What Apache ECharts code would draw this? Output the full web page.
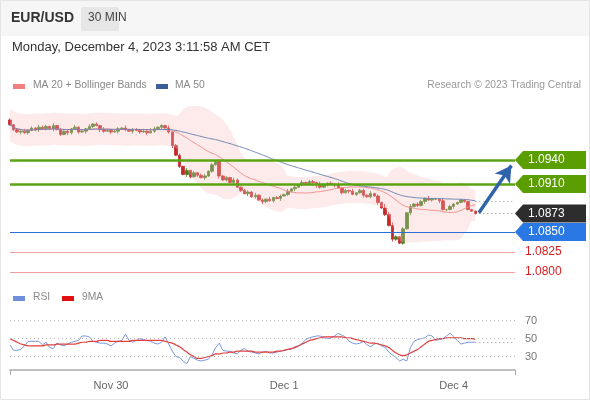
<!DOCTYPE html>
<html><head><meta charset="utf-8">
<script src="https://cdn.jsdelivr.net/npm/echarts@6/dist/echarts.min.js"></script>
<style>html,body{margin:0;padding:0;background:#fff}#c{width:590px;height:400px}</style>
</head><body><div id="c"></div>
<script>
// closes of 30-min EUR/USD bars
const closes = [1.0984,1.0978,1.0975,1.0976,1.0974,1.0977,1.0980,1.0978,1.0981,1.0979,1.0982,
1.0979,1.0983,1.0978,1.0972,1.0976,1.0974,1.0979,1.0981,1.0975,1.0976,
1.0979,1.0982,1.0985,1.0983,1.0978,1.0976,1.0977,1.0975,1.0976,1.0979,
1.0980,1.0978,1.0976,1.0978,1.0977,1.0975,1.0976,1.0974,1.0976,1.0979,
1.0981,1.0983,1.0980,1.0975,1.0958,
1.0946,1.0932,1.0922,1.0927,1.0919,1.0924,1.0921,1.0918,1.0920,1.0926,
1.0934,1.0938,1.0920,1.0915,1.0918,
1.0912,1.0915,1.0906,1.0902,1.0898,1.0900,1.0894,1.0896,1.0890,1.0888,
1.0891,1.0889,1.0893,1.0892,1.0895,1.0897,1.0901,1.0904,1.0906,1.0909,
1.0912,1.0911,1.0913,1.0912,1.0910,1.0906,1.0909,1.0911,1.0910,1.0909,
1.0905,1.0899,1.0902,1.0901,1.0897,1.0899,1.0902,1.0896,1.0894,1.0898,
1.0895,1.0887,1.0880,1.0872,1.0858,1.0841,1.0844,1.0836,1.0854,1.0874,
1.0882,1.0885,1.0883,1.0888,1.0892,1.0890,1.0891,1.0891,1.0889,1.0878,
1.0878,1.0882,1.0885,1.0887,1.0890,1.0888,1.0878,1.0876,1.0873];
const firstOpen = 1.0990;
// wick sizes in pips
const upperWicks = "2121312132213121213121312132122131221314312131221312123121312132122131213122131213122132121312131221312153421213122131213121";
const lowerWicks = "1213121231213121321213121321213121312131213123121321213121312131213121321213121312134521213121312131213121321213121312131213";
const rsiValues = [43,37,37,38,42,47,47,47,47,43, 46,40,39,45,43,42,44,46,47,48,
 53,53,52,47,46,45,45,44,42,45, 47,48,55,48,46,48,50,49,48,47,
 45,44,46,52,44,36,30,29,25,22, 30,28,26,25,26,27,32,40,45,37,
 36,36,34,33,37,39,36,35,34,33, 35,36,34,34,35,36,37,38,38,41,
 42,45,49,51,52,53,53,51,50,51, 53,56,54,52,47,45,44,45,47,43,
 41,44,45,42,40,35,32,29,25,27, 25,40,47,49,50,51,54,53,48,49,
 50,53,56,52,48,44,45,46,46,46];
const rsiMaValues = [50,48,46,44,43,42,42,42,42,42, 43,43,43,44,44,44,44,44,44,45,
 46,46,47,47,47,48,48,48,47,47, 47,47,47,47,48,48,48,48,48,48,
 48,48,48,47,46,45,43,41,38,35, 32,30,28,28,29,30,31,33,33,34,
 34,35,35,36,36,36,36,36,35,35, 35,35,35,35,36,36,37,38,39,40,
 42,44,46,48,49,50,51,52,52,52, 52,52,52,51,51,50,49,48,47,46,
 45,45,44,43,42,40,37,34,32,31, 32,34,36,38,41,44,47,48,49,50,
 50,51,51,51,51,51,50,50,50,49];
const dateLabels = {28:'Nov 30', 76:'Dec 1', 123:'Dec 4'};
const levels = {res2:1.0940, res1:1.0910, last:1.0873, sup1:1.0850, sup2:1.0825, sup3:1.0800};
const rsiTicks = [30,50,70];
const N = 141;

const cats = Array.from({length:N},(_,i)=>String(i));
const ohlc = closes.map((c,i)=>{
  const o = i? closes[i-1] : firstOpen;
  const u = (+upperWicks[i]||1)*0.0001, l=(+lowerWicks[i]||1)*0.0001;
  return [o,c,Math.min(o,c)-l,Math.max(o,c)+u];
});
function sma(arr,p){return arr.map((_,i)=>{const s=arr.slice(Math.max(0,i-p+1),i+1);return s.reduce((a,b)=>a+b,0)/s.length;});}
const ma20=sma(closes,20), ma50=sma(closes,50);
const bbLo=[],bbW=[];
closes.forEach((_,i)=>{const s=closes.slice(Math.max(0,i-19),i+1);const m=ma20[i];
  let sd=Math.sqrt(s.reduce((a,b)=>a+(b-m)*(b-m),0)/s.length); sd=Math.max(sd,0.001);
  bbLo.push(m-2*sd); bbW.push(4*sd);});
const lastI=closes.length-1;

const chart=echarts.init(document.getElementById('c'));
const hline=(y,color,w,t,from)=>[{coord:[String(from||0),y],lineStyle:{color,width:w,type:t||'solid'}},{coord:[String(N-1),y]}];
chart.setOption({
  animation:false,
  grid:[{left:10,right:75,top:100,height:180},{left:10,right:75,top:310,height:60}],
  xAxis:[
    {type:'category',data:cats,boundaryGap:false,gridIndex:0,show:false},
    {type:'category',data:cats,boundaryGap:false,gridIndex:1,
     axisLine:{lineStyle:{color:'#aaa',width:1.5}},axisTick:{show:true,interval:(i)=>i===0||i===N-1,length:5,lineStyle:{color:'#aaa'}},
     axisLabel:{interval:(i)=>dateLabels[i]!==undefined,formatter:(v)=>dateLabels[v]||'',color:'#666',fontSize:11,margin:10,fontFamily:'Liberation Sans'}}
  ],
  yAxis:[
    {type:'value',min:1.0790,max:1.1015,gridIndex:0,show:false,splitLine:{show:false}},
    {type:'value',min:15,max:82,gridIndex:1,position:'right',axisLine:{show:false},axisTick:{show:false},
     splitLine:{show:false},axisLabel:{show:false}}
  ],
  series:[
    {type:'line',data:bbLo,stack:'bb',symbol:'none',lineStyle:{width:0},areaStyle:{opacity:0},smooth:true},
    {type:'line',data:bbW,stack:'bb',symbol:'none',lineStyle:{width:0},areaStyle:{color:'rgba(250,190,190,0.45)'},smooth:true},
    {type:'line',data:ma20,symbol:'none',lineStyle:{color:'#f08a8a',width:1},smooth:true},
    {type:'line',data:ma50,symbol:'none',lineStyle:{color:'#6a7fb0',width:1},smooth:true,
     markLine:{silent:true,symbol:'none',label:{show:false},precision:6,data:[
       hline(levels.res2,'#5aa312',2.5),hline(levels.res1,'#5aa312',2.5),hline(levels.sup1,'#2a6fd6',1.2),
       hline(levels.sup2,'#f0a0a0',1.2),hline(levels.sup3,'#f0a0a0',1.2),
       hline(levels.last,'#777',1,[1,3],lastI),
       hline(ma50[lastI],'#999',1,[1,3],lastI),
       [{coord:[String(lastI+1),1.0874],lineStyle:{color:'#2f63aa',width:3.5,type:'solid'},symbol:'none'},
        {coord:[String(N-2),1.0933],symbol:'arrow',symbolSize:[14,16]}]
     ]}},
    {type:'candlestick',data:ohlc,barWidth:3,itemStyle:{color:'#3f7f1c',color0:'#c62828',borderColor:'#3f7f1c',borderColor0:'#c62828',borderWidth:0.8}},
    {type:'line',data:rsiValues,xAxisIndex:1,yAxisIndex:1,symbol:'none',lineStyle:{color:'#7a95dc',width:1},
     markLine:{silent:true,symbol:'none',label:{show:false},data:[
       ...rsiTicks.map(v=>hline(v,'#bbb',1,[1,3])),
       hline(rsiValues[lastI],'#99a',1,[1,3],lastI)
     ]}},
    {type:'line',data:rsiMaValues,xAxisIndex:1,yAxisIndex:1,symbol:'none',smooth:true,lineStyle:{color:'#e0403f',width:1.2}}
  ]
});
const F='Liberation Sans';
const g=[
  {type:'rect',shape:{x:0,y:0,width:590,height:36},style:{fill:'#f6f6f6'},z:-1},
  {type:'rect',shape:{x:0.5,y:0.5,width:589,height:399},style:{fill:'none',stroke:'#e4e4e4'}},
  {type:'text',x:11,y:11,style:{text:'EUR/USD',font:'bold 14px '+F,fill:'#333'}},
  {type:'rect',shape:{x:81,y:7,width:38,height:24,r:2},style:{fill:'#e6e6e6'}},
  {type:'text',x:88,y:12,style:{text:'30 MIN',font:'12px '+F,fill:'#444'}},
  {type:'text',x:12,y:41,style:{text:'Monday, December 4, 2023 3:11:58 AM CET',font:'13px '+F,fill:'#333'}},
  {type:'rect',shape:{x:13,y:84,width:12,height:5},style:{fill:'#f08080'}},
  {type:'text',x:33,y:80,style:{text:'MA 20 + Bollinger Bands',font:'10.3px '+F,fill:'#888'}},
  {type:'rect',shape:{x:156,y:84,width:12,height:5},style:{fill:'#3a5f9a'}},
  {type:'text',x:175,y:80,style:{text:'MA 50',font:'10.3px '+F,fill:'#888'}},
  {type:'text',x:581,y:80,style:{text:'Research \u00a9 2023 Trading Central',font:'10.3px '+F,fill:'#999',align:'right'}},
  {type:'rect',shape:{x:13,y:296,width:12,height:5},style:{fill:'#6f8fdc'}},
  {type:'text',x:33,y:292,style:{text:'RSI',font:'10.3px '+F,fill:'#888'}},
  {type:'rect',shape:{x:62,y:296,width:12,height:5},style:{fill:'#e01010'}},
  {type:'text',x:82,y:292,style:{text:'9MA',font:'10.3px '+F,fill:'#888'}}
];
function tag(v,bg){const y=chart.convertToPixel({yAxisIndex:0},v);
  g.push({type:'polygon',shape:{points:[[515,y],[523,y-9],[586,y-9],[586,y+9],[523,y+9]]},style:{fill:bg}});
  g.push({type:'text',x:528,y:y,style:{text:v.toFixed(4),font:'12px '+F,fill:'#fff',verticalAlign:'middle'}});}
tag(levels.res2,'#5a9e00');tag(levels.res1,'#5a9e00');tag(levels.last,'#2d2d2d');tag(levels.sup1,'#2a78e4');
[levels.sup2,levels.sup3].forEach(v=>{const y=chart.convertToPixel({yAxisIndex:0},v);
  g.push({type:'text',x:525,y:y,style:{text:v.toFixed(4),font:'12px '+F,fill:'#d62020',verticalAlign:'middle'}});});
rsiTicks.forEach(v=>{const y=chart.convertToPixel({yAxisIndex:1},v);
  g.push({type:'text',x:525,y:y,style:{text:String(v),font:'11px '+F,fill:'#777',verticalAlign:'middle'}});});
chart.setOption({graphic:g});
</script></body></html>
